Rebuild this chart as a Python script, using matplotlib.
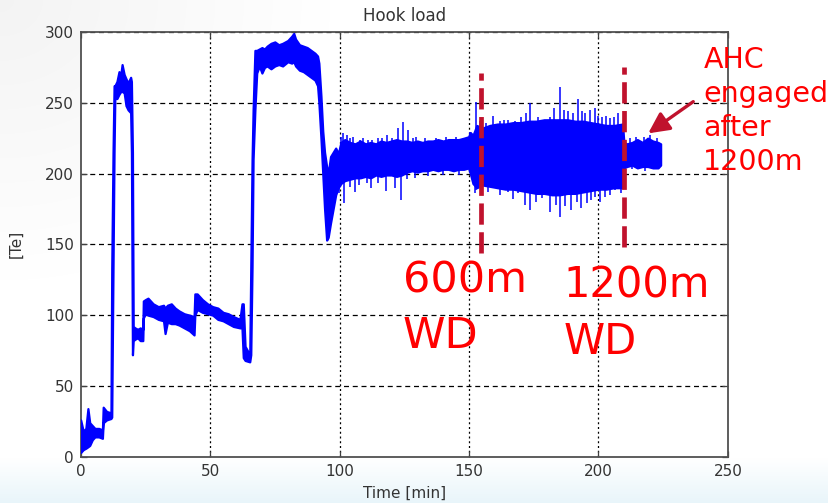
import numpy as np
import matplotlib.pyplot as plt

# hook load envelope: time [min], lower / upper edge [Te]
env_t = [0.0, 1.0, 2.0, 2.8, 3.5, 4.5, 5.5, 7.0, 8.4, 8.7, 10.0, 11.7,
         12.0, 12.5, 12.9, 13.2, 14.0, 14.8, 15.5, 16.0, 16.8, 17.5, 18.3, 19.3, 19.6,
         20.0, 20.3, 21.0, 22.0, 23.0, 24.0, 24.2, 25.0, 26.0, 28.0, 30.0, 32.0, 32.6,
         33.5, 35.0, 36.5, 38.0, 40.0, 42.0, 43.8, 44.1, 45.0, 47.0, 49.0, 51.0, 53.0,
         55.0, 57.0, 59.0, 61.5, 62.3, 62.8, 63.5, 65.3, 65.7, 66.2, 66.6, 67.3, 68.0,
         69.0, 70.0, 71.0, 72.0, 73.5, 75.0, 76.5, 78.0, 80.0, 81.5, 82.3, 83.0, 84.5,
         86.0, 87.5, 89.0, 90.5, 91.5, 92.0, 92.8, 93.5, 94.2, 95.0, 95.6, 96.5, 97.5,
         98.5, 99.5, 100.5, 102.0, 104.0, 106.0, 108.0, 110.0, 112.0, 114.0, 116.0,
         118.0, 120.0, 122.0, 124.0, 126.0, 128.0, 130.0, 132.0, 134.0, 136.0, 138.0,
         140.0, 142.0, 144.0, 146.0, 148.0, 149.8, 150.5, 151.5, 153.0, 155.0, 158.0,
         161.0, 164.0, 167.0, 170.0, 173.0, 176.0, 179.0, 182.0, 185.0, 188.0, 191.0,
         194.0, 197.0, 200.0, 203.0, 206.0, 209.3, 209.8, 211.0, 213.0, 215.0, 217.0,
         219.0, 221.0, 223.0, 224.0]
env_lo = [3, 5, 6, 7, 8, 12, 14, 14, 13, 24, 26, 27,
          28, 133, 215, 253, 253, 256, 258, 258, 257, 248, 245, 243, 215,
          72, 82, 83, 84, 82, 82, 98, 101, 100, 99, 97, 96, 87,
          95, 94, 94, 93, 91, 89, 86, 100, 104, 102, 101, 100, 97,
          96, 94, 92, 91, 91, 70, 68, 67, 72, 134, 210, 245, 271,
          276, 271, 275, 276, 274, 276, 277, 276, 279, 278, 279, 276, 273,
          272, 270, 268, 266, 262, 250, 225, 200, 175, 153, 155, 165, 175,
          185, 190, 193, 195, 196, 197, 197, 198, 197, 199, 198,
          199, 199, 198, 199, 201, 202, 201, 202, 202, 203, 202,
          203, 203, 202, 203, 203, 204, 200, 193, 190, 192, 191,
          190, 189, 189, 188, 187, 186, 186, 185, 185, 186, 186,
          187, 188, 189, 189, 190, 190, 204, 205, 206, 204, 205,
          205, 204, 204, 206]
env_hi = [26, 18, 20, 34, 24, 22, 20, 20, 19, 35, 32, 31,
          133, 215, 262, 262, 265, 272, 270, 277, 270, 267, 264, 268, 265,
          215, 92, 91, 90, 91, 90, 110, 111, 112, 108, 106, 107, 105,
          107, 108, 105, 103, 101, 100, 99, 115, 115, 111, 108, 106, 105,
          102, 101, 99, 97, 108, 108, 78, 72, 134, 210, 245, 287, 287,
          288, 289, 288, 290, 292, 293, 291, 292, 294, 297, 299, 295, 291,
          290, 289, 287, 285, 283, 278, 255, 230, 215, 205, 200, 212, 215,
          218, 214, 222, 224, 222, 221, 223, 221, 222, 221, 223,
          222, 223, 224, 223, 223, 222, 223, 222, 223, 223, 224,
          223, 224, 224, 224, 225, 226, 229, 227, 234, 232, 234,
          235, 235, 236, 236, 237, 237, 238, 238, 238, 238, 237,
          237, 236, 235, 234, 234, 235, 222, 221, 222, 224, 222,
          225, 223, 222, 221]

# single noise spikes sticking out of the band
up_t = [100.6, 101.4, 102.8, 104.2, 105.3, 107.8, 109.1, 111.0, 112.4, 114.9, 116.5,
        118.2, 120.3, 122.6, 124.6, 126.5, 128.3, 129.7, 133.0, 137.4, 141.0, 145.0,
        150.4, 152.8, 154.3, 156.7, 159.3, 161.9, 163.5, 165.1, 167.6, 170.0, 172.0,
        173.5, 176.6, 179.2, 181.1, 183.0, 185.1, 186.8, 188.2, 190.2, 191.9, 193.5,
        194.7, 196.7, 198.5, 200.0, 201.3, 203.0, 204.5, 206.0, 207.5, 212.0, 214.5,
        217.5, 220.0, 222.5]
up_v = [226, 228.6, 227, 225, 226, 224, 225, 224, 224, 225, 225,
        227, 225, 232, 236.6, 231, 225, 226, 225, 225, 226, 226,
        229.6, 250.8, 237, 236, 241, 237, 238, 238, 237, 240, 243,
        249.6, 240, 238, 240, 246, 261.4, 245, 244, 243, 253, 244,
        243, 245, 246, 241, 240, 241, 239, 240, 242.6, 225, 226,
        226, 227, 225]
down_t = [99.9, 101.9, 104.0, 105.8, 107.5, 110.6, 112.3, 115.0, 118.1, 121.3, 123.9,
          126.0, 129.0, 134.0, 140.0, 146.0, 152.3, 152.8, 154.8, 157.3, 159.3, 161.9,
          165.1, 167.0, 169.0, 171.5, 173.5, 176.0, 178.0, 181.3, 183.5, 185.1, 187.0,
          189.5, 191.6, 193.2, 195.4, 197.0, 198.5, 200.5, 202.4, 204.5, 206.3, 208.8,
          213.0, 218.0]
down_v = [186, 179, 190.7, 187, 192, 193, 190, 193, 188, 190, 181,
          196, 197, 198, 199, 199, 186.6, 188.4, 193.6, 187, 190.7, 185,
          187, 182, 186, 178, 174.3, 180, 182.5, 173, 178, 169.5, 177,
          174.3, 180, 176, 179, 181, 183.7, 180, 183.7, 185, 188.4, 186,
          203, 202]

# water depth markers (red dashed)
mark_t = [154.7, 209.7]
mark_lo = [144, 148]
mark_hi = [271, 275]

env_t = np.array(env_t)
env_lo = np.array(env_lo, dtype=float)
env_hi = np.array(env_hi, dtype=float)
mid = (env_lo + env_hi) / 2

blue = '#0000ff'
red_dark = '#c0122d'
txt_col = '#333333'

fig = plt.figure(figsize=(8.29, 5.03), dpi=100)

# slide-like background: grey corner at top left, bluish strip at the bottom
bg = fig.add_axes([0, 0, 1, 1], zorder=-10)
yy, xx = np.mgrid[0:503, 0:829]
w_blue = np.clip((yy - 458) / 45.0, 0, 1)
w_grey = np.clip(1 - np.sqrt((xx / 330.0) ** 2 + (yy / 280.0) ** 2), 0, 1) * 0.45
img = np.ones((503, 829, 3))
for c, (b, g) in enumerate(zip([0.91, 0.96, 0.98], [0.90, 0.90, 0.90])):
    img[..., c] = 1 - w_blue * (1 - b) - w_grey * (1 - g)
bg.imshow(img, aspect='auto', extent=[0, 1, 0, 1])
bg.axis('off')

ax = fig.add_axes([0.0973, 0.092, 0.7808, 0.8444])
ax.set_xlim(0, 250)
ax.set_ylim(0, 300)

ax.fill_between(env_t, env_lo, env_hi, color=blue, lw=1.6, zorder=3)
ax.vlines(up_t, np.interp(up_t, env_t, mid), up_v, color=blue, lw=1.1, zorder=3)
ax.vlines(down_t, down_v, np.interp(down_t, env_t, mid), color=blue, lw=1.1, zorder=3)

ax.vlines(mark_t, mark_lo, mark_hi, color=red_dark, lw=3.4,
          linestyles=[(0, (4.5, 1.6))], zorder=4)

ax.set_xticks(np.arange(0, 251, 50))
ax.set_yticks(np.arange(0, 301, 50))
for x in np.arange(50, 250, 50):
    ax.axvline(x, color='black', lw=0.9, ls=(0, (1.6, 2.2)), zorder=1)
for y in np.arange(50, 301, 50):
    ax.axhline(y, color='black', lw=0.9, ls=(0, (4, 3)), zorder=1)

ax.tick_params(direction='in', length=4, width=0.9, color='#404040',
               labelsize=11, labelcolor=txt_col, top=True, right=True, pad=5)
for s in ax.spines.values():
    s.set_color('#505050')
    s.set_linewidth(1.3)

ax.set_title('Hook load', fontsize=12, color=txt_col, pad=8)
ax.set_xlabel('Time [min]', fontsize=11, color=txt_col)
ax.set_ylabel('[Te]', fontsize=11, color=txt_col)
ax.xaxis.set_label_coords(0.5, -0.068)
ax.yaxis.set_label_coords(-0.089, 0.5)

ax.text(124.5, 139, '600m\nWD', color='red', fontsize=31, va='top', ha='left',
        linespacing=1.4, zorder=5)
ax.text(186.4, 136, '1200m\nWD', color='red', fontsize=30, va='top', ha='left',
        linespacing=1.45, zorder=5)
ax.text(240.5, 290, 'AHC\nengaged\nafter\n1200m', color='red', fontsize=20.5,
        va='top', ha='left', linespacing=1.27, clip_on=False, zorder=5)
ax.annotate('', xy=(219.2, 228.4), xytext=(236.6, 250.8),
            arrowprops=dict(arrowstyle='-|>,head_length=0.9,head_width=0.45',
                            color=red_dark, lw=2.4, mutation_scale=14,
                            shrinkA=0, shrinkB=0),
            annotation_clip=False, zorder=5)

fig.savefig('out.png', dpi=100)
